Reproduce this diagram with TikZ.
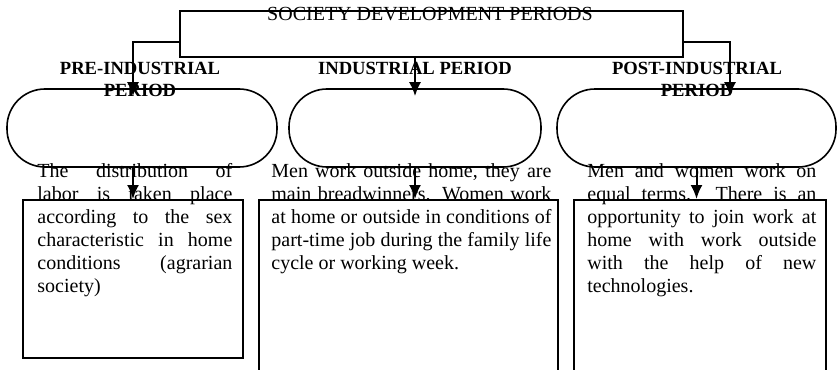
\documentclass[tikz,border=0pt]{standalone}
\usepackage{fontspec}
\setmainfont{Liberation Serif}
\usetikzlibrary{positioning,arrows.meta}
\tikzstyle{diagram} = [x = 0.5pt, y = -0.5pt]
\tikzstyle{lineStyle} = [line width = 1pt]
\tikzstyle{arrowStyle} = [lineStyle, -{Latex[length = 7pt, width = 6pt]}]
\tikzstyle{titleBox} = [draw, lineStyle, inner sep = 0pt]
\tikzstyle{titleText} = [font = \fontsize{10}{11}\selectfont, inner sep = 0pt, anchor = base]
\tikzstyle{periodTitle} = [font = \fontsize{9.3}{11}\selectfont\bfseries, align = center, inner sep = 0pt]
\tikzstyle{periodShape} = [draw, line width = 0.8pt, rounded corners = 19pt, minimum height = 39pt, inner sep = 0pt]
\tikzstyle{periodText} = [font = \fontsize{10}{11.5}\selectfont, align = justify, inner sep = 0pt, anchor = north west]
\tikzstyle{textBox} = [draw, lineStyle, inner sep = 0pt, anchor = north west]
\newcommand{\periodShape}[3]{\node [periodShape, minimum width = #3] (#1) at #2 {};}
\newcommand{\periodText}[4]{\node [periodText, text width = #3] (#1) at #2 {\hyphenpenalty=10000 #4};}

\begin{document}
\begin{tikzpicture}[diagram]
  \clip (0,0) rectangle (838,369);

  % top box
  \node [titleBox, minimum width = 251.5pt, minimum height = 23pt] (society) at (431.5,34) {};
  \node [titleText] (societyTitle) at (430,21) {SOCIETY DEVELOPMENT PERIODS};

  % period titles
  \node [periodTitle] (preTitle) at (140,79) {PRE-INDUSTRIAL\\PERIOD};
  \node [periodTitle] (midTitle) at (415,68) {INDUSTRIAL PERIOD};
  \node [periodTitle] (postTitle) at (697,79) {POST-INDUSTRIAL\\PERIOD};

  % texts
  \periodText{preText}{(37,163)}{97.5pt}{The distribution of\linebreak labor is taken place\linebreak according to the sex\linebreak characteristic in home\linebreak conditions (agrarian\linebreak society)}
  \periodText{midText}{(271,163)}{140pt}{Men work outside home, they are\linebreak main breadwinners. Women work\linebreak at home or outside in conditions of\linebreak part-time job during the family life\linebreak cycle or working week.}
  \periodText{postText}{(587,163)}{114.5pt}{Men and women work on\linebreak equal terms. There is an\linebreak opportunity to join work at\linebreak home with work outside\linebreak with the help of new\linebreak technologies.}

  % rounded shapes
  \periodShape{preShape}{(142,128)}{135pt}
  \periodShape{midShape}{(415,128)}{126pt}
  \periodShape{postShape}{(696.5,128)}{139.5pt}

  % boxes
  \node [textBox, minimum width = 110pt, minimum height = 79pt] (preBox) at (22,199) {};
  \node [textBox, minimum width = 149.5pt, minimum height = 100pt] (midBox) at (258,199) {};
  \node [textBox, minimum width = 126pt, minimum height = 100pt] (postBox) at (573,199) {};

  % arrows
  \draw [arrowStyle] ([yshift = -4pt]society.west) -| ([xshift = -4.5pt, yshift = -4pt]preShape.north);
  \draw [arrowStyle] (midShape.north |- society.south) -- ([yshift = -4pt]midShape.north);
  \draw [arrowStyle] ([yshift = -4pt]society.east) -| ([xshift = 16.75pt, yshift = -4pt]postShape.north);
  \draw [arrowStyle] (preBox.north |- preShape.south) -- (preBox.north);
  \draw [arrowStyle] (midShape.south) -- (midShape.south |- midBox.north);
  \draw [arrowStyle] (postShape.south) -- (postShape.south |- postBox.north);
\end{tikzpicture}
\end{document}
